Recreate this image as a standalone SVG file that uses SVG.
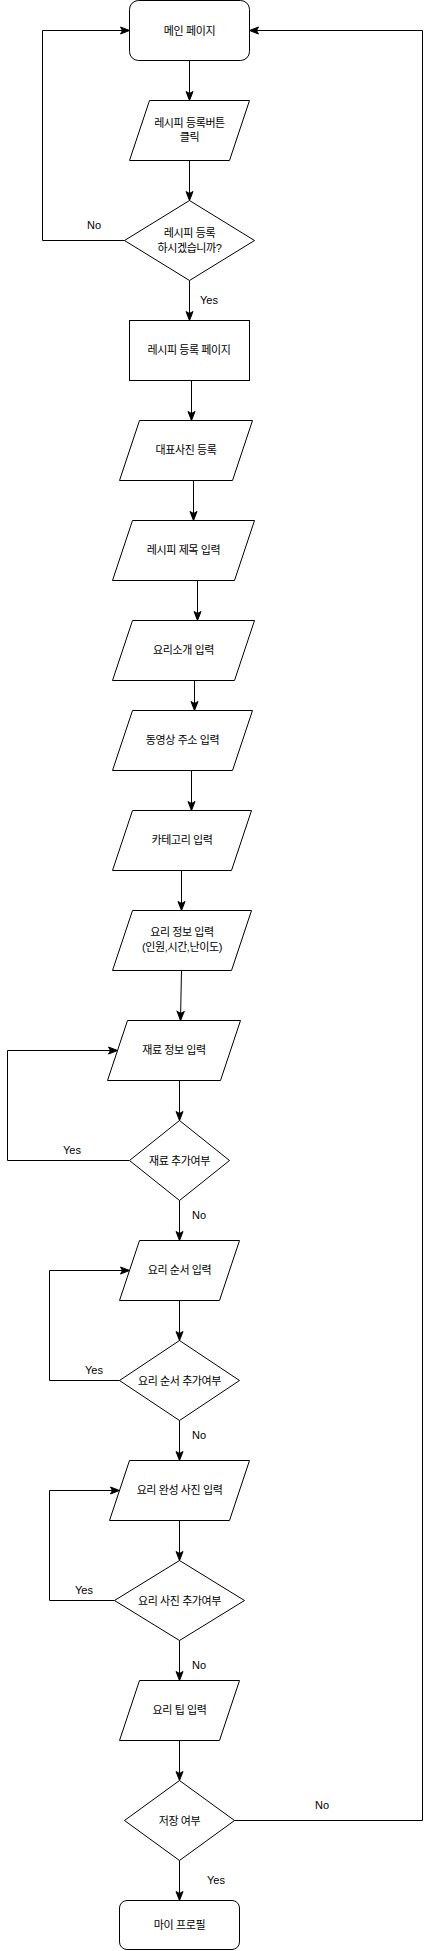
<svg xmlns="http://www.w3.org/2000/svg" width="431" height="1951" viewBox="0 0 431 1951">
<style>
.s{fill:#fff;stroke:#000;stroke-width:1}
.e{fill:none;stroke:#000;stroke-width:1}
.t{font-family:"Liberation Sans","Noto Sans CJK KR",sans-serif;font-size:11px;letter-spacing:-0.4px;fill:#000;text-anchor:middle;dominant-baseline:central}
.l{font-family:"Liberation Sans","Noto Sans CJK KR",sans-serif;font-size:11px;fill:#000;text-anchor:middle;dominant-baseline:central}
</style>
<defs>
<marker id="a" markerUnits="userSpaceOnUse" markerWidth="12" markerHeight="10" viewBox="-10 -5 12 10" refX="0" refY="0" orient="auto">
<path d="M-9,-3.5 L0,0 L-9,3.5 L-7,0 Z" fill="#000" stroke="#000" stroke-width="1"/>
</marker>
</defs>
<rect width="431" height="1951" fill="#fff"/>
<g id="connectors">
<path class="e" marker-end="url(#a)" d="M189.5,60.5 V100.5"/>
<path class="e" marker-end="url(#a)" d="M189.5,160.5 V200.5"/>
<path class="e" marker-end="url(#a)" d="M189.5,280.5 V320.5"/>
<path class="e" marker-end="url(#a)" d="M124.5,240.5 H42.5 V30.5 H129.5"/>
<path class="e" marker-end="url(#a)" d="M191.5,380.5 V420.5"/>
<path class="e" marker-end="url(#a)" d="M193.5,480.5 V520.5"/>
<path class="e" marker-end="url(#a)" d="M197.5,580.5 V620.5"/>
<path class="e" marker-end="url(#a)" d="M194.5,680.5 V710.5"/>
<path class="e" marker-end="url(#a)" d="M191.5,770.5 V810.5"/>
<path class="e" marker-end="url(#a)" d="M181.5,870.5 V910.5"/>
<path class="e" marker-end="url(#a)" d="M181.5,970.5 L180.5,1020.5"/>
<path class="e" marker-end="url(#a)" d="M179.5,1080.5 V1120.5"/>
<path class="e" marker-end="url(#a)" d="M179.5,1200.5 V1240.5"/>
<path class="e" marker-end="url(#a)" d="M129.5,1160.5 H7.5 V1050.5 H117.5"/>
<path class="e" marker-end="url(#a)" d="M179.5,1300.5 V1340.5"/>
<path class="e" marker-end="url(#a)" d="M119.5,1380.5 H49.5 V1270.5 H129.5"/>
<path class="e" marker-end="url(#a)" d="M179.5,1420.5 V1460.5"/>
<path class="e" marker-end="url(#a)" d="M179.5,1520.5 V1560.5"/>
<path class="e" marker-end="url(#a)" d="M114.5,1600.5 H49.5 V1490.5 H119.5"/>
<path class="e" marker-end="url(#a)" d="M179.5,1640.5 V1680.5"/>
<path class="e" marker-end="url(#a)" d="M179.5,1740.5 V1780.5"/>
<path class="e" marker-end="url(#a)" d="M234.5,1820.5 H422.5 V30.5 H249.5"/>
<path class="e" marker-end="url(#a)" d="M179.5,1860.5 V1900.5"/>
<text class="l" x="94" y="225">No</text>
<text class="l" x="209" y="300">Yes</text>
<text class="l" x="72" y="1149.5">Yes</text>
<text class="l" x="199" y="1215">No</text>
<text class="l" x="94" y="1369.5">Yes</text>
<text class="l" x="199" y="1434.5">No</text>
<text class="l" x="84" y="1589.5">Yes</text>
<text class="l" x="199" y="1664.5">No</text>
<text class="l" x="322" y="1804.5">No</text>
<text class="l" x="216" y="1879.5">Yes</text>
</g>
<g id="main"><rect class="s" x="129.5" y="0.5" width="120" height="60" rx="9"/><text class="t" x="189.5" y="30.5">메인 페이지</text></g>
<g id="p1"><polygon class="s" points="149.5,100.5 249.5,100.5 229.5,160.5 129.5,160.5"/><text class="t" x="189.5" y="122.5">레시피 등록버튼</text><text class="t" x="189.5" y="137">클릭</text></g>
<g id="d1"><polygon class="s" points="189.5,200.5 254.5,240.5 189.5,280.5 124.5,240.5"/><text class="t" x="189.5" y="233">레시피 등록</text><text class="t" x="189.5" y="248">하시겠습니까?</text></g>
<g id="r2"><rect class="s" x="129.5" y="320.5" width="120" height="60"/><text class="t" x="189" y="349.5">레시피 등록 페이지</text></g>
<g id="p2"><polygon class="s" points="139.5,420.5 252.5,420.5 232.5,480.5 119.5,480.5"/><text class="t" x="186" y="449.5">대표사진 등록</text></g>
<g id="p3"><polygon class="s" points="132.5,520.5 254.5,520.5 234.5,580.5 112.5,580.5"/><text class="t" x="183.5" y="549.5">레시피 제목 입력</text></g>
<g id="p4"><polygon class="s" points="132.5,620.5 254.5,620.5 234.5,680.5 112.5,680.5"/><text class="t" x="183.5" y="649.5">요리소개 입력</text></g>
<g id="p5"><polygon class="s" points="132.5,710.5 252.5,710.5 232.5,770.5 112.5,770.5"/><text class="t" x="182.5" y="739.5">동영상 주소 입력</text></g>
<g id="p6"><polygon class="s" points="132.5,810.5 251.5,810.5 231.5,870.5 112.5,870.5"/><text class="t" x="182" y="839.5">카테고리 입력</text></g>
<g id="p7"><polygon class="s" points="132.5,910.5 251.5,910.5 231.5,970.5 112.5,970.5"/><text class="t" x="182" y="932">요리 정보 입력</text><text class="t" x="182" y="947">(인원,시간,난이도)</text></g>
<g id="p8"><polygon class="s" points="127.5,1020.5 240.5,1020.5 220.5,1080.5 107.5,1080.5"/><text class="t" x="174" y="1049.5">재료 정보 입력</text></g>
<g id="d2"><polygon class="s" points="179.5,1120.5 229.5,1160.5 179.5,1200.5 129.5,1160.5"/><text class="t" x="179.5" y="1160.5">재료 추가여부</text></g>
<g id="p9"><polygon class="s" points="139.5,1240.5 239.5,1240.5 219.5,1300.5 119.5,1300.5"/><text class="t" x="179.5" y="1269.5">요리 순서 입력</text></g>
<g id="d3"><polygon class="s" points="179.5,1340.5 239.5,1380.5 179.5,1420.5 119.5,1380.5"/><text class="t" x="179.5" y="1380.5">요리 순서 추가여부</text></g>
<g id="p10"><polygon class="s" points="129.5,1460.5 249.5,1460.5 229.5,1520.5 109.5,1520.5"/><text class="t" x="179.5" y="1489.5">요리 완성 사진 입력</text></g>
<g id="d4"><polygon class="s" points="179.5,1560.5 244.5,1600.5 179.5,1640.5 114.5,1600.5"/><text class="t" x="179.5" y="1600.5">요리 사진 추가여부</text></g>
<g id="p11"><polygon class="s" points="139.5,1680.5 239.5,1680.5 219.5,1740.5 119.5,1740.5"/><text class="t" x="179.5" y="1709.5">요리 팁 입력</text></g>
<g id="d5"><polygon class="s" points="179.5,1780.5 234.5,1820.5 179.5,1860.5 124.5,1820.5"/><text class="t" x="179.5" y="1820.5">저장 여부</text></g>
<g id="r3"><rect class="s" x="119.5" y="1900.5" width="120" height="49" rx="7.5"/><text class="t" x="179.5" y="1925">마이 프로필</text></g>
</svg>
